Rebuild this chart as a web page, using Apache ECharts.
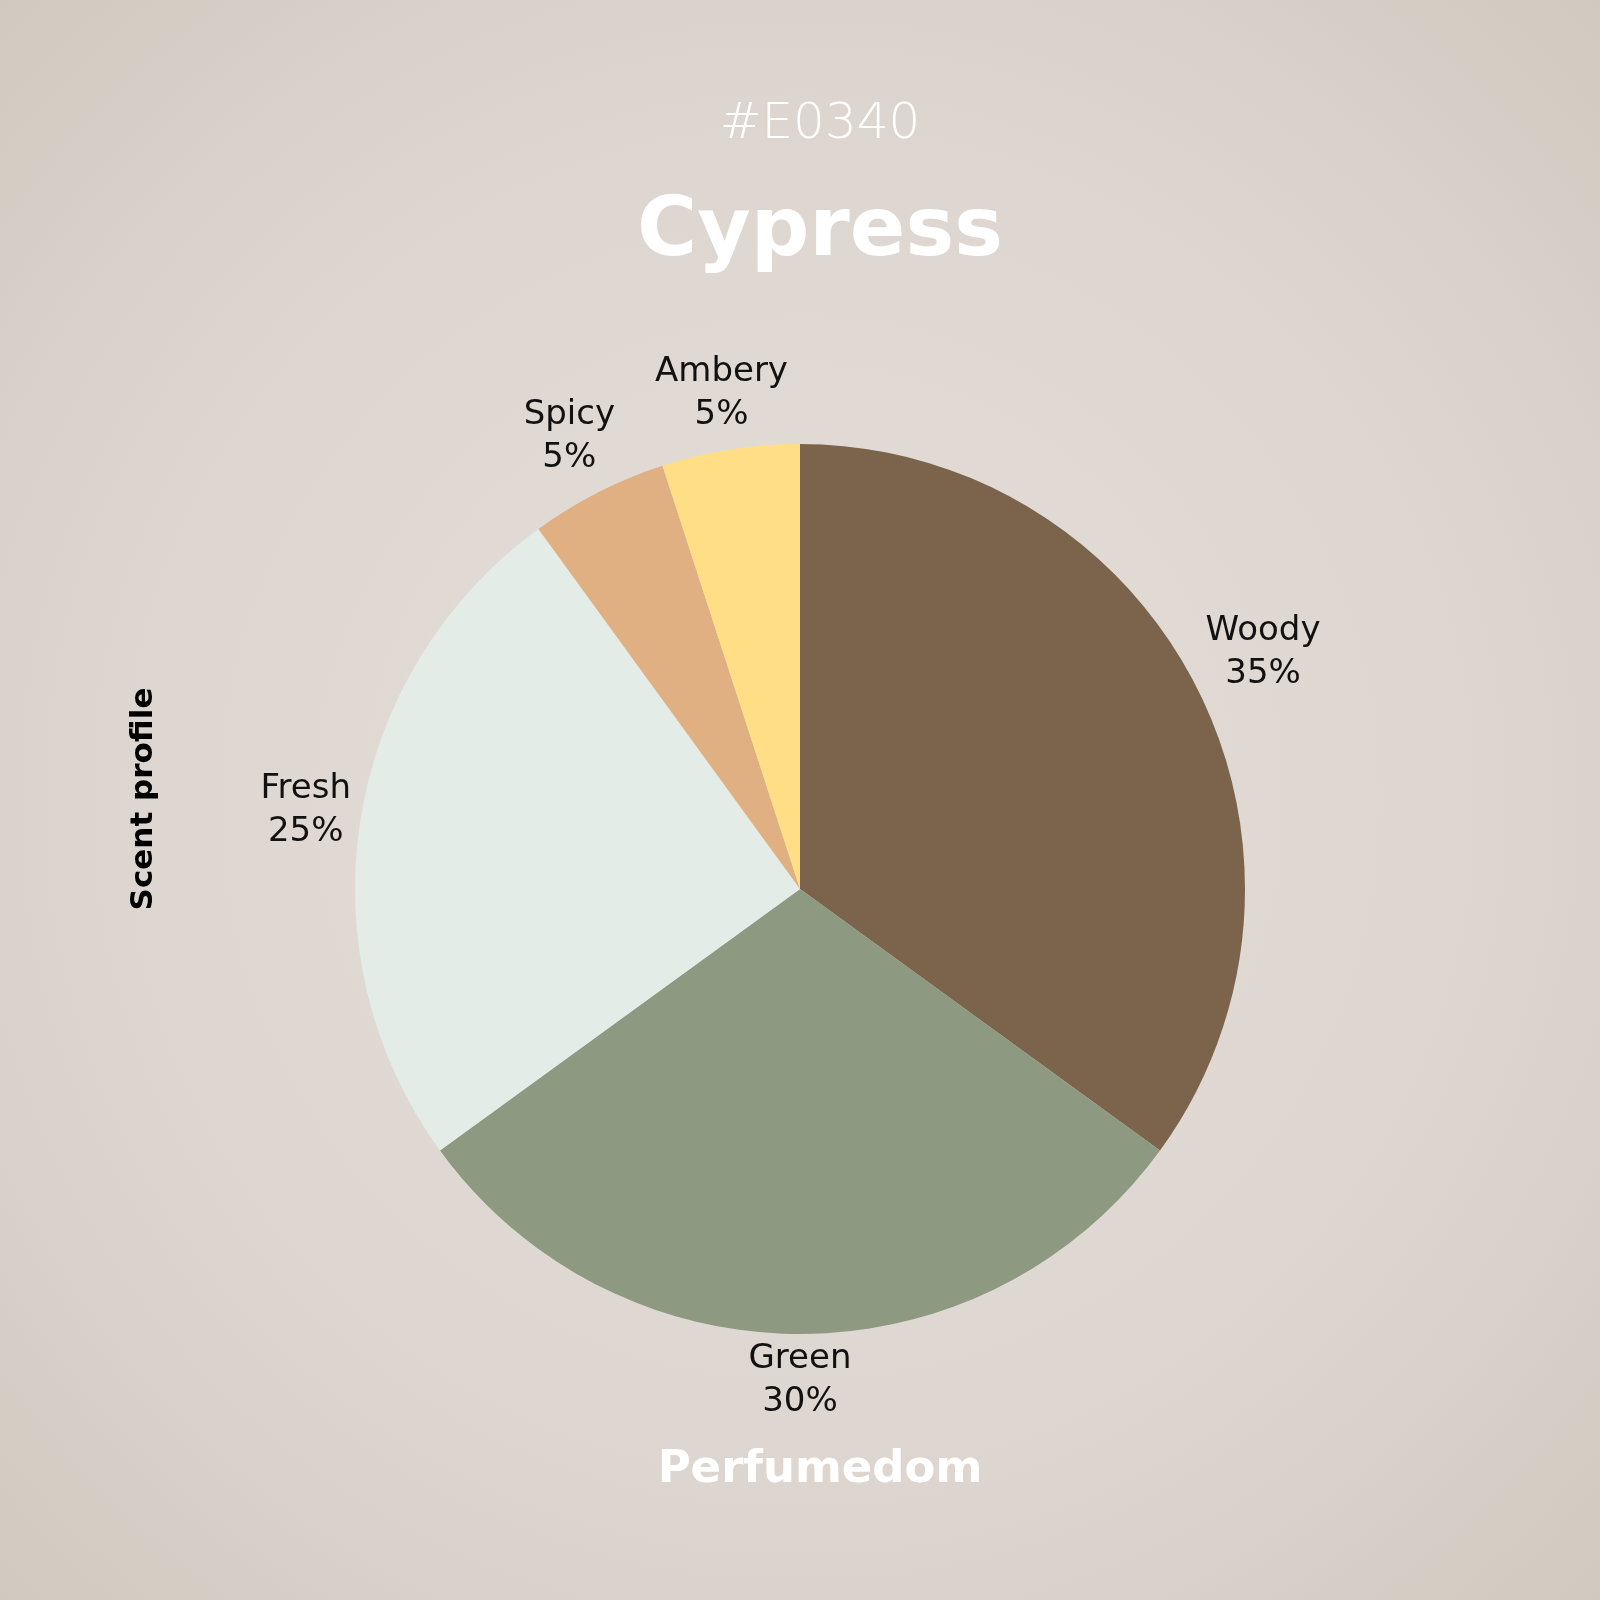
<!DOCTYPE html>
<html>
<head>
<meta charset="utf-8">
<script src="https://cdn.jsdelivr.net/npm/echarts@6/dist/echarts.min.js"></script>
<style>
  html, body { margin: 0; padding: 0; }
  #chart { width: 1600px; height: 1600px; }
</style>
</head>
<body>
<div id="chart"></div>
<script>
const categories = ['Woody', 'Green', 'Fresh', 'Spicy', 'Ambery'];
const shares = [35, 30, 25, 5, 5];
const sliceColors = ['#7B634C', '#8D9980', '#E4ECE7', '#E0AF82', '#FFDE85'];

const fontFamily = '"DejaVu Sans", sans-serif';
const pieCenter = [800, 889];
const pieRadius = 445;
const labelGap = 4;
const titleX = 815;
const pieData = categories.map((name, i) => ({ name: name, value: shares[i] }));

const chart = echarts.init(document.getElementById('chart'));
const option = {
  backgroundColor: new echarts.graphic.RadialGradient(0.5, 0.5, 0.72, [
    { offset: 0, color: '#E4DED9' },
    { offset: 0.6, color: '#DDD6D0' },
    { offset: 1, color: '#D1C8BF' }
  ]),
  title: [
    {
      text: '#E0340',
      left: titleX,
      textAlign: 'center',
      top: 95,
      textStyle: { color: '#FFFFFF', fontFamily: fontFamily, fontSize: 50, fontWeight: 200 }
    },
    {
      text: 'Cypress',
      left: titleX,
      textAlign: 'center',
      top: 188,
      textStyle: { color: '#FFFFFF', fontFamily: fontFamily, fontSize: 82, fontWeight: 'bold' }
    },
    {
      text: 'Perfumedom',
      left: titleX,
      textAlign: 'center',
      top: 1443,
      textStyle: { color: '#FFFFFF', fontFamily: fontFamily, fontSize: 45, fontWeight: 'bold' }
    }
  ],
  graphic: [
    {
      type: 'text',
      x: 144,
      y: 799,
      rotation: Math.PI / 2,
      style: {
        text: 'Scent profile',
        fill: '#000000',
        font: 'bold 31px ' + fontFamily,
        align: 'center',
        verticalAlign: 'middle'
      }
    }
  ],
  series: [
    {
      type: 'pie',
      center: pieCenter,
      radius: [0, pieRadius],
      startAngle: 90,
      clockwise: true,
      silent: true,
      label: { show: false },
      labelLine: { show: false },
      itemStyle: {
        color: (p) => sliceColors[p.dataIndex],
        borderWidth: 0
      },
      data: pieData
    },
    {
      // transparent ring used only to place the centred labels outside the pie
      type: 'pie',
      center: pieCenter,
      radius: [480, 530],
      startAngle: 90,
      clockwise: true,
      silent: true,
      itemStyle: { color: 'rgba(0,0,0,0)' },
      labelLine: { show: false },
      label: {
        show: true,
        position: 'inside',
        formatter: '{b}\n{c}%',
        color: '#111111',
        fontFamily: fontFamily,
        fontSize: 34,
        lineHeight: 43,
        align: 'center'
      },
      // keep every label box the same small gap away from the pie edge
      labelLayout: function (params) {
        const r = params.labelRect;
        const cx = r.x + r.width / 2;
        const cy = r.y + r.height / 2;
        const vx = cx - pieCenter[0];
        const vy = cy - pieCenter[1];
        const d = Math.sqrt(vx * vx + vy * vy);
        const ux = vx / d;
        const uy = vy / d;
        const extent = Math.abs(ux) * r.width / 2 + Math.abs(uy) * r.height / 2;
        const shift = pieRadius + labelGap + extent - d;
        return { dx: ux * shift, dy: uy * shift };
      },
      data: pieData
    }
  ]
};
chart.setOption(option);
</script>
</body>
</html>
